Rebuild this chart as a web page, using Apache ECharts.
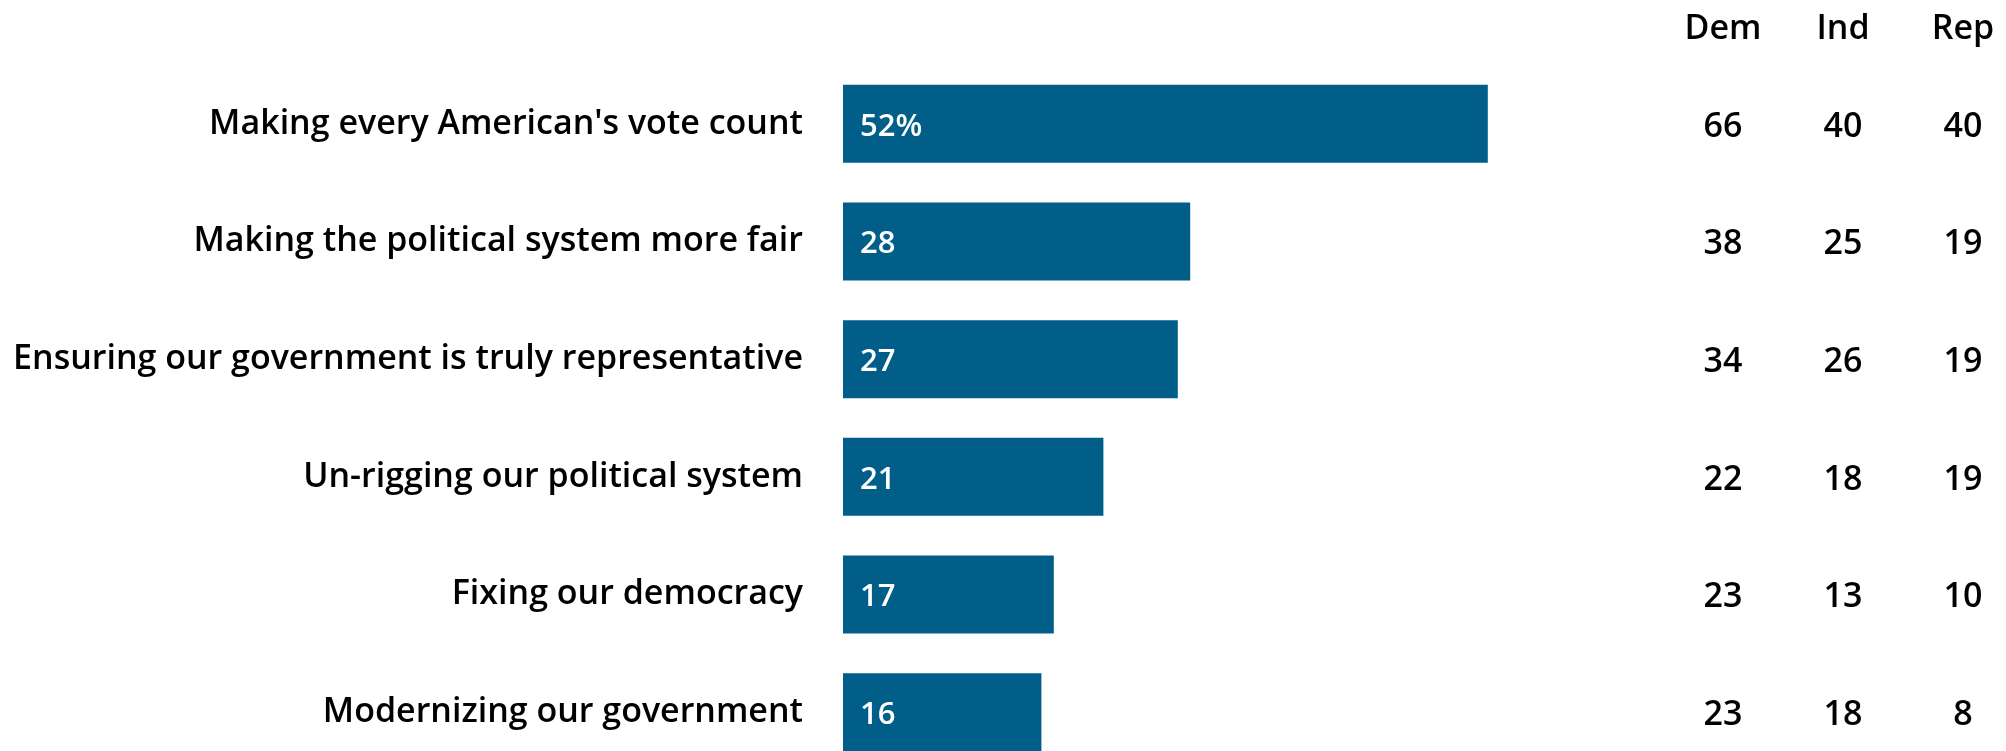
<!DOCTYPE html>
<html><head><meta charset="utf-8">
<script src="https://cdn.jsdelivr.net/npm/echarts@6/dist/echarts.min.js"></script>
<style>html,body{margin:0;padding:0;background:#fff}#c{width:2006px;height:751px}</style>
</head><body><div id="c"></div>
<script>
const categories = ["Making every American's vote count","Making the political system more fair","Ensuring our government is truly representative","Un-rigging our political system","Fixing our democracy","Modernizing our government"];
const totals = [52, 28, 27, 21, 17, 16];
const groups = ["Dem", "Ind", "Rep"];
const dem = [66, 38, 34, 22, 23, 23];
const ind = [40, 25, 26, 18, 13, 18];
const rep = [40, 19, 19, 19, 10, 8];

const FONT = '"Open Sans"';
const groupData = [];
[dem, ind, rep].forEach((arr, g) => arr.forEach((v, i) => groupData.push([g, i, v])));

const chart = echarts.init(document.getElementById('c'));
chart.setOption({
  animation: false,
  backgroundColor: '#fff',
  textStyle: { fontFamily: FONT },
  grid: [
    { left: 843, top: 65, width: 744, height: 706, outerBoundsMode: 'none', containLabel: false },
    { left: 1663, top: 65, width: 360, height: 706, outerBoundsMode: 'none', containLabel: false }
  ],
  xAxis: [
    { gridIndex: 0, type: 'value', min: 0, max: 60, show: false },
    { gridIndex: 1, type: 'category', data: groups, position: 'top',
      axisLine: { show: false }, axisTick: { show: false },
      axisLabel: { color: '#000', fontSize: 34, fontWeight: 600, fontFamily: FONT, margin: 36, verticalAlign: 'middle' } }
  ],
  yAxis: [
    { gridIndex: 0, type: 'category', data: categories, inverse: true,
      axisLine: { show: false }, axisTick: { show: false },
      axisLabel: { color: '#000', fontSize: 34, fontWeight: 600, fontFamily: FONT, margin: 40, padding: [6, 0, 0, 0] } },
    { gridIndex: 1, type: 'category', data: categories, inverse: true, show: false }
  ],
  series: [
    { type: 'bar', xAxisIndex: 0, yAxisIndex: 0, data: totals, barWidth: 78,
      itemStyle: { color: '#015E89' },
      label: { show: true, position: 'insideLeft', distance: 17, color: '#fff', offset: [0, 3],
        fontSize: 31, fontWeight: 600, fontFamily: FONT,
        formatter: p => p.dataIndex === 0 ? p.value + '%' : String(p.value) } },
    { type: 'scatter', xAxisIndex: 1, yAxisIndex: 1, data: groupData, symbolSize: 0,
      itemStyle: { opacity: 1 },
      label: { show: true, position: 'inside', color: '#000', fontSize: 34, fontWeight: 600, fontFamily: FONT,
        offset: [0, 3], formatter: p => String(p.value[2]) } }
  ]
});
</script></body></html>
